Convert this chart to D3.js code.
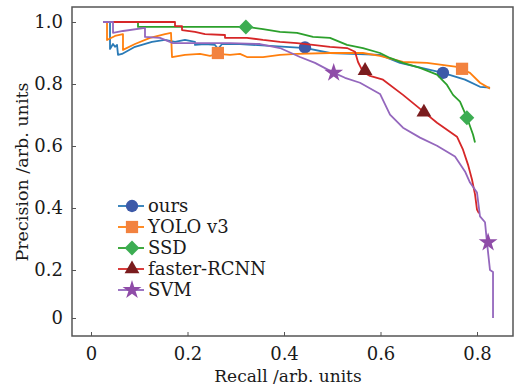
<!DOCTYPE html>
<html>
<head>
<meta charset="utf-8">
<script src="https://cdn.jsdelivr.net/npm/d3@7/dist/d3.min.js"></script>
<style>
  html, body { margin: 0; padding: 0; background: #fff; }
  svg { display: block; }
  text { font-family: "DejaVu Serif", serif; fill: #1a1a1a; }
</style>
</head>
<body>
<svg id="chart" width="525" height="389"></svg>
<script>
// ---------- data ----------
const seriesNames = ["ours", "YOLO v3", "SSD", "faster-RCNN", "SVM"];

const oursRecall = [0.0249,0.0394,0.0394,0.0456,0.0497,0.0539,0.056,0.0642,0.0912,0.1264,0.1534,0.1741,0.1948,0.2155,0.2155,0.2363,0.257,0.2632,0.2715,0.3088,0.371,0.4456,0.4953,0.599,0.6404,0.7295,0.7751,0.8062,0.8269];
const oursPrecision = [1,1,0.913,0.929,0.920,0.926,0.894,0.897,0.920,0.936,0.942,0.936,0.942,0.936,0.926,0.929,0.926,0.913,0.929,0.929,0.923,0.916,0.900,0.894,0.868,0.836,0.814,0.791,0.788];

const yoloRecall = [0.0249,0.0332,0.0332,0.0497,0.0663,0.0663,0.0912,0.1223,0.1534,0.1658,0.1679,0.1948,0.2259,0.2466,0.2632,0.2881,0.3088,0.3233,0.3565,0.3917,0.4269,0.4953,0.5637,0.599,0.6466,0.6964,0.7585,0.7855,0.8062,0.8269];
const yoloPrecision = [1,1,0.942,0.955,0.961,0.910,0.929,0.949,0.961,0.965,0.887,0.894,0.897,0.891,0.897,0.894,0.897,0.887,0.887,0.894,0.897,0.900,0.900,0.891,0.871,0.868,0.855,0.836,0.804,0.785];

const ssdRecall = [0.0249,0.0974,0.0974,0.3233,0.3565,0.3917,0.4269,0.4601,0.4953,0.5306,0.5637,0.599,0.6197,0.6466,0.6819,0.7171,0.7378,0.7503,0.7648,0.7793,0.7917,0.7959];
const ssdPrecision = [1,1,0.984,0.984,0.977,0.968,0.965,0.952,0.949,0.926,0.916,0.900,0.884,0.868,0.852,0.830,0.797,0.765,0.743,0.691,0.637,0.611];

const rcnnRecall = [0.0249,0.1741,0.1741,0.1886,0.1886,0.2155,0.2363,0.2777,0.2777,0.3233,0.3565,0.3917,0.4269,0.4601,0.4953,0.5306,0.5472,0.5534,0.5637,0.5782,0.6052,0.6466,0.6922,0.7171,0.7585,0.771,0.7813,0.7896,0.7959,0.8,0.8041];
const rcnnPrecision = [1,1,0.987,0.987,0.974,0.968,0.961,0.958,0.949,0.949,0.942,0.936,0.932,0.926,0.920,0.916,0.904,0.871,0.839,0.826,0.814,0.765,0.707,0.675,0.630,0.588,0.540,0.492,0.444,0.395,0.383];

const svmRecall = [0.0249,0.0456,0.0456,0.0663,0.1119,0.1119,0.143,0.1699,0.2052,0.2881,0.3503,0.3917,0.4332,0.4642,0.5036,0.5264,0.5575,0.599,0.6197,0.6466,0.6819,0.7171,0.7544,0.7751,0.7855,0.8,0.8062,0.8166,0.8207,0.8269,0.8332,0.8332];
const svmPrecision = [1,1,0.965,0.971,0.981,0.952,0.949,0.932,0.932,0.932,0.929,0.916,0.887,0.868,0.836,0.820,0.804,0.768,0.701,0.659,0.627,0.601,0.566,0.518,0.482,0.450,0.373,0.354,0.289,0.2,0.192,0];

// marker positions
const oursMarkRecall = [0.4435, 0.7295];   const oursMarkPrecision = [0.918, 0.836];
const yoloMarkRecall = [0.263, 0.769];     const yoloMarkPrecision = [0.900, 0.849];
const ssdMarkRecall = [0.321, 0.779];      const ssdMarkPrecision = [0.984, 0.691];
const rcnnMarkRecall = [0.568, 0.690];     const rcnnMarkPrecision = [0.843, 0.709];
const svmMarkRecall = [0.503, 0.823];      const svmMarkPrecision = [0.836, 0.289];

const xTicks = [0, 0.2, 0.4, 0.6, 0.8];
const xTickLabels = ["0", "0.2", "0.4", "0.6", "0.8"];
const yTicks = [0, 0.2, 0.4, 0.6, 0.8, 1.0];
const yTickLabels = ["0", "0.2", "0.4", "0.6", "0.8", "1.0"];

// ---------- styles ----------
const lineColors = ["#2a7ab6", "#ff7f0e", "#2ca02c", "#d62728", "#9467bd"];
const markColors = ["#3d5aa8", "#f2823f", "#3cad52", "#7a1c1e", "#8f4ca8"];
const markTypes = ["circle", "square", "diamond", "triangle", "star"];

const series = [
  {r: oursRecall, p: oursPrecision, mr: oursMarkRecall, mp: oursMarkPrecision},
  {r: yoloRecall, p: yoloPrecision, mr: yoloMarkRecall, mp: yoloMarkPrecision},
  {r: ssdRecall, p: ssdPrecision, mr: ssdMarkRecall, mp: ssdMarkPrecision},
  {r: rcnnRecall, p: rcnnPrecision, mr: rcnnMarkRecall, mp: rcnnMarkPrecision},
  {r: svmRecall, p: svmPrecision, mr: svmMarkRecall, mp: svmMarkPrecision}
].map((s, i) => ({
  name: seriesNames[i],
  pts: s.r.map((r, k) => [r, s.p[k]]),
  marks: s.mr.map((r, k) => [r, s.mp[k]]),
  line: lineColors[i], mark: markColors[i], type: markTypes[i]
}));

// ---------- layout ----------
const svg = d3.select("#chart");
const frame = {left: 72, top: 7, right: 513, bottom: 336};

const x = d3.scaleLinear().domain([0, 0.8]).range([91, 477]);
const y = d3.scaleLinear().domain([0, 0.2, 1.0]).range([318, 270, 22]);

function markerPath(type) {
  switch (type) {
    case "circle": return d3.symbol(d3.symbolCircle, 120)();
    case "square": return d3.symbol(d3.symbolSquare, 150)();
    case "diamond": return d3.symbol(d3.symbolSquare, 110)();
    case "triangle": return d3.symbol(d3.symbolTriangle, 95)();
    case "star": return d3.symbol(d3.symbolStar, 110)();
  }
}
function markerTransform(type, px, py) {
  return type === "diamond" ? `translate(${px},${py}) rotate(45)` : `translate(${px},${py})`;
}

// curves
const line = d3.line().x(d => x(d[0])).y(d => y(d[1]));
const plot = svg.append("g");
series.forEach(s => {
  const g = plot.append("g");
  g.append("path").attr("d", line(s.pts))
    .attr("fill", "none").attr("stroke", s.line).attr("stroke-width", 1.8)
    .attr("stroke-linejoin", "round");
  g.selectAll("path.mk").data(s.marks).enter().append("path")
    .attr("class", "mk")
    .attr("d", markerPath(s.type))
    .attr("transform", d => markerTransform(s.type, x(d[0]), y(d[1])))
    .attr("fill", s.mark);
});

// frame
svg.append("rect")
  .attr("x", frame.left).attr("y", frame.top)
  .attr("width", frame.right - frame.left).attr("height", frame.bottom - frame.top)
  .attr("fill", "none").attr("stroke", "#555").attr("stroke-width", 1.5);

// x axis (ticks inward)
const xAxis = d3.axisBottom(x).tickValues(xTicks)
  .tickFormat((d, i) => xTickLabels[i]).tickSizeInner(-4).tickSizeOuter(0).tickPadding(11);
const gx = svg.append("g").attr("transform", `translate(0,${frame.bottom})`).call(xAxis);
gx.select(".domain").remove();
gx.selectAll(".tick line").attr("stroke", "#555").attr("stroke-width", 1);
gx.selectAll(".tick text").attr("font-size", 18).attr("font-family", "DejaVu Serif").attr("fill", "#1a1a1a");

// y axis (ticks inward)
const yAxis = d3.axisLeft(y).tickValues(yTicks)
  .tickFormat((d, i) => yTickLabels[i]).tickSizeInner(-4).tickSizeOuter(0).tickPadding(9);
const gy = svg.append("g").attr("transform", `translate(${frame.left},0)`).call(yAxis);
gy.select(".domain").remove();
gy.selectAll(".tick line").attr("stroke", "#555").attr("stroke-width", 1);
gy.selectAll(".tick text").attr("font-size", 18).attr("font-family", "DejaVu Serif").attr("fill", "#1a1a1a");

// axis titles
svg.append("text").attr("x", 288).attr("y", 382).attr("text-anchor", "middle")
  .attr("font-size", 17).text("Recall /arb. units");
svg.append("text").attr("transform", "translate(28,172) rotate(-90)").attr("text-anchor", "middle")
  .attr("font-size", 17.5).text("Precision /arb. units");

// legend
const legend = svg.append("g").attr("transform", "translate(118,206)");
series.forEach((s, i) => {
  const row = legend.append("g").attr("transform", `translate(0,${i * 21})`);
  row.append("line").attr("x1", 0).attr("x2", 26).attr("y1", 0).attr("y2", 0)
    .attr("stroke", s.line).attr("stroke-width", 1.8);
  row.append("path").attr("d", markerPath(s.type))
    .attr("transform", markerTransform(s.type, 14, 0)).attr("fill", s.mark);
  row.append("text").attr("x", 30).attr("y", 0).attr("dy", "0.35em")
    .attr("font-size", 18).text(s.name);
});
</script>
</body>
</html>
